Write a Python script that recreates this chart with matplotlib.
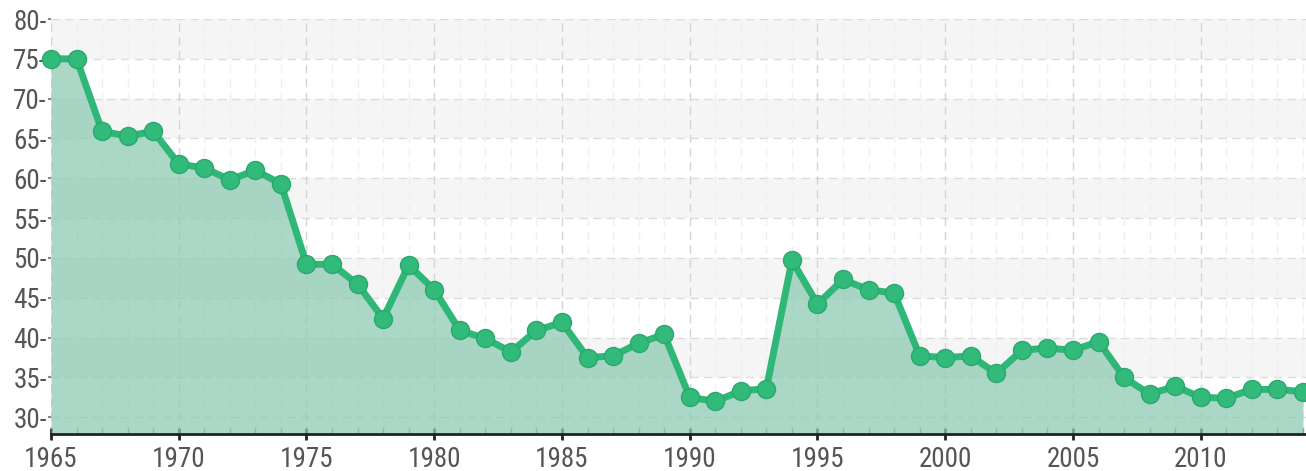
import numpy as np
import matplotlib
matplotlib.use("Agg")
import matplotlib.pyplot as plt
from matplotlib import font_manager
from matplotlib.ticker import MultipleLocator

# data
years = list(range(1965, 2015))
values = [75.0, 75.0, 65.9, 65.3, 65.9, 61.8, 61.3, 59.8, 61.0, 59.3,
          49.2, 49.2, 46.7, 42.4, 49.1, 46.0, 40.9, 39.9, 38.2, 40.9,
          41.9, 37.5, 37.7, 39.3, 40.4, 32.5, 32.0, 33.3, 33.6, 49.7,
          44.2, 47.3, 46.0, 45.6, 37.7, 37.5, 37.7, 35.5, 38.4, 38.7,
          38.4, 39.5, 35.0, 32.9, 33.9, 32.5, 32.4, 33.5, 33.5, 33.2]
y_ticks = [30, 35, 40, 45, 50, 55, 60, 65, 70, 75, 80]
x_ticks = [1965, 1970, 1975, 1980, 1985, 1990, 1995, 2000, 2005, 2010]

# pick a narrow face if one is installed
installed = {f.name for f in font_manager.fontManager.ttflist}
narrow = [f.name for f in font_manager.fontManager.ttflist
          if f.stretch in ("condensed", "semi-condensed", "extra-condensed")
          or "Narrow" in f.name or "Condensed" in f.name]
font = None
for cand in ["Liberation Sans Narrow", "DejaVu Sans Condensed", "Roboto Condensed"]:
    if cand in installed:
        font = cand
        break
if font is None:
    font = narrow[0] if narrow else "Roboto"
plt.rcParams['font.family'] = [font, 'DejaVu Sans']

fig = plt.figure(figsize=(13.06, 4.71), dpi=100)
ax = fig.add_axes([51/1306, 37/471, 1 - 51/1306, (434-19)/471])

ymin, ymax = 27.9, 80
xmin, xmax = 1965, 2014.12
ax.set_xlim(xmin, xmax)
ax.set_ylim(ymin, ymax)

# alternating bands
for lo in range(35, 80, 10):
    ax.axhspan(lo, lo + 5, color="#f5f5f5", zorder=0, lw=0)

# grid lines
for v in y_ticks:
    ax.axhline(v, color="#dcdcdc", lw=1, ls=(0, (6, 4)), zorder=1)
for yr in years:
    c = "#d4d4d4" if yr % 5 == 0 else "#efefef"
    ax.axvline(yr, color=c, lw=1, ls=(0, (6, 4)), zorder=1)

ax.fill_between(years, values, ymin, color="#8fcbb3", alpha=0.75, lw=0, zorder=2)
ax.plot(years, values, color="#2fb777", lw=5, marker="o", ms=13,
        mfc="#31ba79", mec="#2aa86d", mew=1, zorder=4, clip_on=False,
        solid_joinstyle="round")

for s in ["top", "right", "left"]:
    ax.spines[s].set_visible(False)
ax.spines["bottom"].set_color("#222222")
ax.spines["bottom"].set_linewidth(2)
ax.spines["bottom"].set_zorder(5)

ax.set_xticks(x_ticks)
ax.set_xticklabels([str(x) for x in x_ticks])
ax.xaxis.set_minor_locator(MultipleLocator(1))
ax.tick_params(axis="x", which="major", direction="inout", length=9, width=2,
               color="#222222", labelsize=19.5, labelcolor="#555555", pad=4)
ax.tick_params(axis="x", which="minor", direction="in", length=4, width=1,
               color="#888888")

ax.set_yticks(y_ticks)
ax.set_yticklabels([f"{v}-" for v in y_ticks])
ax.tick_params(axis="y", length=2, width=1.5, color="#888888",
               labelsize=19.5, labelcolor="#555555", pad=1)

fig.savefig("out.png", dpi=100, facecolor="white")
